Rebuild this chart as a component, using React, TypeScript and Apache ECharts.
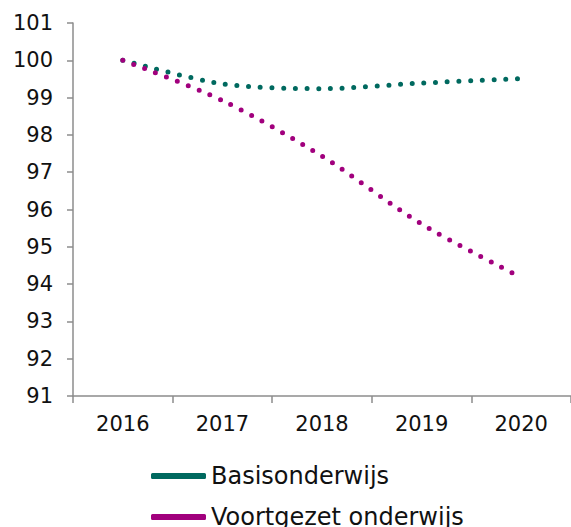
import React, { useEffect, useRef } from "react";
import * as echarts from "echarts";

const years = ["2016", "2017", "2018", "2019", "2020"];
const basisonderwijs = [100, 99.37, 99.24, 99.39, 99.51];
const voortgezetOnderwijs = [100, 98.92, 97.43, 95.61, 94.18];
const seriesNames = ["Basisonderwijs", "Voortgezet onderwijs"];
const colors = ["#00695F", "#A1007D"];

export default function App() {
  const ref = useRef<HTMLDivElement>(null);
  useEffect(() => {
    if (!ref.current) return;
    const chart = echarts.init(ref.current, undefined, { renderer: "svg" });
    const font = "DejaVu Sans";
    const axisColor = "#8c8c8c";
    const dotted = (color: string) => ({
      color,
      width: 5,
      type: [0, 11.7],
      cap: "round",
    });
    const legendBase = {
      orient: "vertical",
      left: 146,
      itemWidth: 55,
      itemHeight: 6,
      icon: "roundRect",
      textStyle: {
        fontFamily: font,
        fontSize: 24,
        color: "#111",
        lineHeight: 30,
      },
    };
    chart.setOption({
      animation: false,
      backgroundColor: "#ffffff",
      grid: { left: 73, top: 23, width: 500, height: 373 },
      legend: [
        { ...legendBase, top: 456, data: [seriesNames[0]] },
        { ...legendBase, top: 497, data: [seriesNames[1]] },
      ],
      xAxis: {
        type: "category",
        data: years,
        boundaryGap: true,
        axisLine: { lineStyle: { color: axisColor, width: 1.5 } },
        axisTick: { show: true, length: 7, lineStyle: { color: axisColor, width: 1.5 } },
        axisLabel: { fontFamily: font, fontSize: 21, color: "#111", margin: 17 },
        splitLine: { show: false },
      },
      yAxis: {
        type: "value",
        min: 91,
        max: 101,
        interval: 1,
        axisLine: { show: true, lineStyle: { color: axisColor, width: 1.5 } },
        axisTick: { show: true, length: 6, lineStyle: { color: axisColor, width: 1.5 } },
        axisLabel: { fontFamily: font, fontSize: 21, color: "#111", margin: 20 },
        splitLine: { show: false },
      },
      series: [
        {
          name: seriesNames[0],
          type: "line",
          data: basisonderwijs,
          smooth: 0.3,
          showSymbol: false,
          color: colors[0],
          lineStyle: dotted(colors[0]),
        },
        {
          name: seriesNames[1],
          type: "line",
          data: voortgezetOnderwijs,
          smooth: 0.3,
          showSymbol: false,
          color: colors[1],
          lineStyle: dotted(colors[1]),
        },
      ],
    });
    return () => chart.dispose();
  }, []);
  return (
    <div
      ref={ref}
      style={{ position: "fixed", left: 0, top: 0, width: 571, height: 527 }}
    />
  );
}
